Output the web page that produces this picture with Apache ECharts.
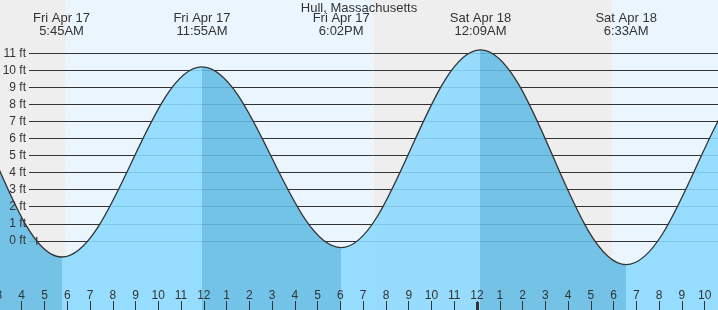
<!DOCTYPE html>
<html><head><meta charset="utf-8">
<script src="https://cdn.jsdelivr.net/npm/echarts@6/dist/echarts.min.js"></script>
<style>html,body{margin:0;padding:0;background:#fff}#c{width:718px;height:310px}</style>
</head><body><div id="c"></div>
<script>
// ---- data (time = hours since Fri Apr 17 00:00, height = ft) ----
const tideTimes   = [-6.7, -0.4, 5.75, 11.917, 18.033, 24.15, 30.55, 36.75, 43.1];
const tideHeights = [-0.3, 11.4, -0.95, 10.2, -0.4, 11.2, -1.4, 10.2, -0.8];
const labelTimes  = [5.75, 11.917, 18.033, 24.15, 30.55];
const labelDays   = ['Fri Apr 17', 'Fri Apr 17', 'Fri Apr 17', 'Sat Apr 18', 'Sat Apr 18'];
const labelClock  = ['5:45AM', '11:55AM', '6:02PM', '12:09AM', '6:33AM'];
const sunrise1 = 5.93, sunset1 = 19.45, sunrise2 = 29.93;
const hourTicks  = [3,4,5,6,7,8,9,10,11,12,13,14,15,16,17,18,19,20,21,22,23,24,25,26,27,28,29,30,31,32,33,34];
const hourLabels = ['3','4','5','6','7','8','9','10','11','12','1','2','3','4','5','6','7','8','9','10','11','12','1','2','3','4','5','6','7','8','9','10'];
const midnightTicks = [24];
const nowTime = [4.66], nowHeight = [0];
const title = 'Hull, Massachusetts';

// ---- view config ----
const X_MIN = 3.047, X_MAX = 34.584;
const Y_MIN = -4.06, Y_MAX = 14.127;
const W = 718;
const PX_PER_H = W / (X_MAX - X_MIN);
const H_FIRST = hourTicks[0], H_LAST = hourTicks[hourTicks.length - 1] + 1;
const tickGridLeft = (H_FIRST - X_MIN) * PX_PER_H;
const tickGridRight = W - (H_LAST - X_MIN) * PX_PER_H;
const FONT = "'Liberation Sans', Arial, sans-serif";
const TXT = '#333';
const NIGHT = '#eeeeee', DAY = '#eaf5fe';
const FALL = '#63bce5', RISE = '#8bd9ff';

const tideData = tideTimes.map((t, i) => [t, tideHeights[i]]);
const pieces = [];
for (let i = 0; i < tideTimes.length - 1; i++) {
  pieces.push({ gte: tideTimes[i], lt: tideTimes[i + 1],
    color: tideHeights[i] > tideHeights[i + 1] ? FALL : RISE });
}
const bands = [
  [{ xAxis: X_MIN, itemStyle: { color: NIGHT } }, { xAxis: sunrise1 }],
  [{ xAxis: sunrise1, itemStyle: { color: DAY } }, { xAxis: sunset1 }],
  [{ xAxis: sunset1, itemStyle: { color: NIGHT } }, { xAxis: sunrise2 }],
  [{ xAxis: sunrise2, itemStyle: { color: DAY } }, { xAxis: X_MAX }]
];

const chart = echarts.init(document.getElementById('c'), null, { renderer: 'canvas' });
chart.setOption({
  animation: false,
  backgroundColor: '#fff',
  title: { text: title, left: 'center', top: 1.5, padding: 0,
    textStyle: { fontFamily: FONT, fontSize: 13, fontWeight: 'normal', color: TXT } },
  grid: [
    { left: 0, right: 0, top: 0, bottom: 0, outerBoundsMode: 'none', containLabel: false },
    { left: 29, right: 0, top: 53.3, bottom: 69.2, outerBoundsMode: 'none', containLabel: false },
    { left: tickGridLeft, right: tickGridRight, top: 0, bottom: 0, outerBoundsMode: 'none', containLabel: false }
  ],
  visualMap: { show: false, type: 'piecewise', dimension: 0, seriesIndex: 1,
    pieces: pieces, outOfRange: { color: RISE } },
  xAxis: [
    { gridIndex: 0, type: 'value', min: X_MIN, max: X_MAX, position: 'bottom', z: 5,
      axisLine: { show: false, onZero: false }, splitLine: { show: false }, axisLabel: { show: false },
      axisTick: { show: true, inside: true, length: 8, customValues: midnightTicks,
        lineStyle: { color: TXT, width: 3 } } },
    { gridIndex: 0, type: 'value', min: X_MIN, max: X_MAX, position: 'top', z: 5,
      axisLine: { show: false, onZero: false }, splitLine: { show: false }, axisTick: { show: false },
      axisLabel: { inside: true, margin: 12, customValues: labelTimes, color: TXT,
        fontFamily: FONT, fontSize: 13, lineHeight: 13, align: 'center',
        formatter: v => { let k = 0; labelTimes.forEach((t, i) => { if (Math.abs(t - v) < 1e-6) k = i; });
          return labelDays[k] + '\n' + labelClock[k]; } } },
    { gridIndex: 1, type: 'value', min: 0, max: 1, show: false, axisLine: { onZero: false } },
    { gridIndex: 2, type: 'value', min: H_FIRST, max: H_LAST, interval: 1, position: 'bottom', z: 5,
      axisLine: { show: false, onZero: false }, splitLine: { show: false },
      axisTick: { show: true, inside: true, length: 9, lineStyle: { color: TXT, width: 1 } },
      axisLabel: { inside: true, margin: 8, color: TXT, fontFamily: FONT, fontSize: 12,
        showMinLabel: true, showMaxLabel: true, hideOverlap: false,
        formatter: v => { const i = hourTicks.indexOf(Math.round(v)); return i >= 0 ? hourLabels[i] : ''; } } }
  ],
  yAxis: [
    { gridIndex: 0, type: 'value', min: Y_MIN, max: Y_MAX, show: false },
    { gridIndex: 1, type: 'value', position: 'left', min: 0, max: 11, interval: 1, z: 1,
      axisLine: { show: false, onZero: false }, axisTick: { show: false }, axisLabel: { show: false },
      splitLine: { show: true, lineStyle: { color: TXT, width: 1 } } },
    { gridIndex: 1, type: 'value', position: 'left', min: 0, max: 11, interval: 1, z: 5,
      axisLine: { show: false, onZero: false }, axisTick: { show: false }, splitLine: { show: false },
      axisLabel: { margin: 3, color: TXT, fontFamily: FONT, fontSize: 12, formatter: '{value} ft' } },
    { gridIndex: 2, type: 'value', min: 0, max: 1, show: false }
  ],
  series: [
    { type: 'line', xAxisIndex: 0, yAxisIndex: 0, data: tideData, z: 0, silent: true,
      symbol: 'none', lineStyle: { width: 0, opacity: 0 },
      markArea: { silent: true, z: 0, data: bands, itemStyle: { opacity: 1 } } },
    { type: 'line', xAxisIndex: 0, yAxisIndex: 0, data: tideData, z: 2,
      smooth: 0.363, smoothMonotone: 'x', symbol: 'none',
      lineStyle: { color: TXT, width: 1.3 },
      areaStyle: { opacity: 0.88, origin: 'start' } },
    { type: 'scatter', xAxisIndex: 0, yAxisIndex: 0, z: 3, silent: true,
      data: nowTime.map((t, i) => [t, nowHeight[i]]),
      symbol: 'rect', symbolSize: [1.5, 8], itemStyle: { color: TXT } }
  ]
});
</script>
</body></html>
